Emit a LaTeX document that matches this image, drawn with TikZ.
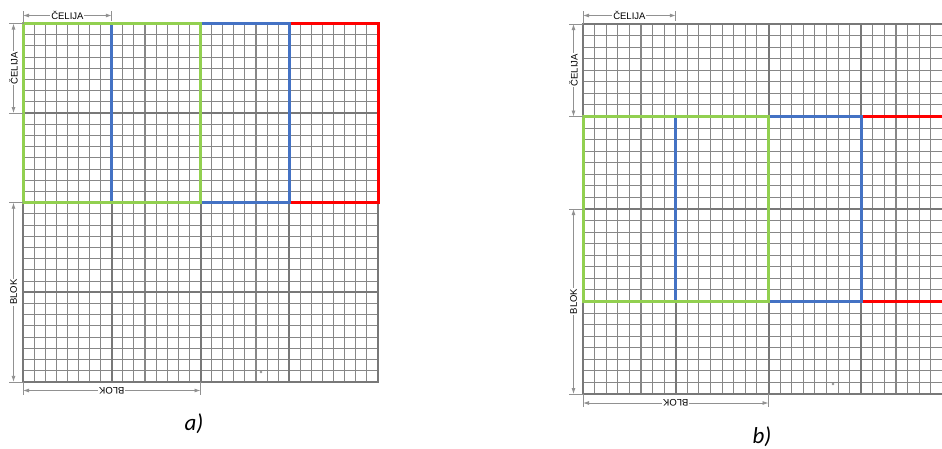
\documentclass[tikz,border=0pt]{standalone}
\usepackage{fontspec}
\setmainfont{Liberation Sans}
\newfontfamily\labfont{Carlito}
\usetikzlibrary{arrows.meta}
\definecolor{fineg}{RGB}{135,135,135}
\definecolor{cellg}{RGB}{120,120,120}
\definecolor{dimg}{RGB}{145,145,145}
\definecolor{wgreen}{RGB}{146,208,80}
\definecolor{wblue}{RGB}{68,114,196}
\definecolor{wred}{RGB}{255,0,0}
\tikzset{
 fineline/.style={draw=fineg,line width=1.1pt},
 cellline/.style={draw=cellg,line width=2pt},
 borderline/.style={draw=cellg,line width=2.5pt},
 win/.style={line width=3pt},
 dimline/.style={draw=dimg,line width=0.8pt,{Latex[length=6pt,width=4pt]}-{Latex[length=6pt,width=4pt]}},
 extline/.style={draw=dimg,line width=0.8pt},
 dimtext/.style={fill=white,inner sep=1pt,font=\fontsize{9.5}{10}\selectfont,text=black},
 caption/.style={font=\labfont\itshape\fontsize{23}{25}\selectfont,inner sep=0pt},
 speck/.style={draw=fineg,line width=0.4pt}
}
\begin{document}
\begin{tikzpicture}[x=1pt,y=-1pt]
\useasboundingbox (0,0) rectangle (942,448);
\clip (0,0) rectangle (942,448);
% ---------------- panel a ----------------
\def\ax{23}\def\ay{23.5}\def\cw{88.75}\def\ch{89.6}
\foreach \i in {0,...,32} {
  \draw[fineline] ({\ax+\i*\cw/8},\ay) -- ({\ax+\i*\cw/8},{\ay+4*\ch});
  \draw[fineline] (\ax,{\ay+\i*\ch/8}) -- ({\ax+4*\cw},{\ay+\i*\ch/8});
}
\foreach \i in {1,2,3} {
  \draw[cellline] ({\ax+\i*\cw},\ay) -- ({\ax+\i*\cw},{\ay+4*\ch});
  \draw[cellline] (\ax,{\ay+\i*\ch}) -- ({\ax+4*\cw},{\ay+\i*\ch});
}
\draw[borderline] (\ax,\ay) rectangle ({\ax+4*\cw},{\ay+4*\ch});
\draw[win,wred] ({\ax+2*\cw},\ay) rectangle ({\ax+4*\cw},{\ay+2*\ch});
\draw[win,wblue] ({\ax+1*\cw},\ay) rectangle ({\ax+3*\cw},{\ay+2*\ch});
\draw[win,wgreen] ({\ax},\ay) rectangle ({\ax+2*\cw},{\ay+2*\ch});
\draw[speck] (261,372) circle (1pt);
% dimensions a
\draw[extline] (\ax,11) -- (\ax,\ay);
\draw[extline] ({\ax+\cw},11) -- ({\ax+\cw},21);
\coordinate (at1) at (\ax,15.5);
\coordinate (at2) at ({\ax+\cw},15.5);
\draw[dimline] (at1) -- node[dimtext] {ČELIJA} (at2);
\draw[extline] (9,\ay) -- (\ax,\ay);
\draw[extline] (9,{\ay+\ch}) -- (\ax,{\ay+\ch});
\coordinate (al1) at (13.5,\ay);
\coordinate (al2) at (13.5,{\ay+\ch});
\draw[dimline] (al2) -- node[dimtext,rotate=90] {ČELIJA} (al1);
\draw[extline] (9,{\ay+2*\ch}) -- (\ax,{\ay+2*\ch});
\draw[extline] (9,{\ay+4*\ch}) -- (\ax,{\ay+4*\ch});
\coordinate (ab1) at (13.5,{\ay+2*\ch});
\coordinate (ab2) at (13.5,{\ay+4*\ch});
\draw[dimline] (ab2) -- node[dimtext,rotate=90] {BLOK} (ab1);
\draw[extline] (\ax,{\ay+4*\ch}) -- (\ax,395);
\draw[extline] ({\ax+2*\cw},{\ay+4*\ch}) -- ({\ax+2*\cw},395);
\coordinate (ad1) at (\ax,390.5);
\coordinate (ad2) at ({\ax+2*\cw},390.5);
\draw[dimline] (ad1) -- node[dimtext,rotate=180] {BLOK} (ad2);
\node[caption] (capa) at (194,424) {a)};
% ---------------- panel b ----------------
\def\bx{583}\def\by{24}\def\bw{92.75}\def\bh{92.5}
\foreach \i in {0,...,32} {
  \draw[fineline] ({\bx+\i*\bw/8},\by) -- ({\bx+\i*\bw/8},{\by+4*\bh});
  \draw[fineline] (\bx,{\by+\i*\bh/8}) -- ({\bx+4*\bw},{\by+\i*\bh/8});
}
\draw[cellline] ({\bx+\bw},{\by+\bh}) -- ({\bx+\bw},{\by+4*\bh});
\foreach \i in {2,3} {
  \draw[cellline] ({\bx+\i*\bw},\by) -- ({\bx+\i*\bw},{\by+4*\bh});
}
\foreach \i in {1,2,3} {
  \draw[cellline] (\bx,{\by+\i*\bh}) -- ({\bx+4*\bw},{\by+\i*\bh});
}
\draw[borderline] (\bx,\by) rectangle ({\bx+4*\bw},{\by+4*\bh});
\draw[win,wred] ({\bx+2*\bw},{\by+\bh}) rectangle ({\bx+4*\bw},{\by+3*\bh});
\draw[win,wblue] ({\bx+1*\bw},{\by+\bh}) rectangle ({\bx+3*\bw},{\by+3*\bh});
\draw[win,wgreen] ({\bx},{\by+\bh}) rectangle ({\bx+2*\bw},{\by+3*\bh});
\draw[speck] (833,384) circle (1pt);
% dimensions b
\draw[extline] (\bx,11) -- (\bx,\by);
\draw[extline] ({\bx+\bw},11) -- ({\bx+\bw},21);
\coordinate (bt1) at (\bx,15.5);
\coordinate (bt2) at ({\bx+\bw},15.5);
\draw[dimline] (bt1) -- node[dimtext] {ČELIJA} (bt2);
\draw[extline] (569,\by) -- (\bx,\by);
\draw[extline] (569,{\by+\bh}) -- (\bx,{\by+\bh});
\coordinate (bl1) at (573.5,\by);
\coordinate (bl2) at (573.5,{\by+\bh});
\draw[dimline] (bl2) -- node[dimtext,rotate=90] {ČELIJA} (bl1);
\draw[extline] (569,{\by+2*\bh}) -- (\bx,{\by+2*\bh});
\draw[extline] (569,{\by+4*\bh}) -- (\bx,{\by+4*\bh});
\coordinate (bb1) at (573.5,{\by+2*\bh});
\coordinate (bb2) at (573.5,{\by+4*\bh});
\draw[dimline] (bb2) -- node[dimtext,rotate=90] {BLOK} (bb1);
\draw[extline] (\bx,{\by+4*\bh}) -- (\bx,407);
\draw[extline] ({\bx+2*\bw},{\by+4*\bh}) -- ({\bx+2*\bw},407);
\coordinate (bd1) at (\bx,403);
\coordinate (bd2) at ({\bx+2*\bw},403);
\draw[dimline] (bd1) -- node[dimtext,rotate=180] {BLOK} (bd2);
\node[caption] (capb) at (762,437) {b)};
\end{tikzpicture}
\end{document}
